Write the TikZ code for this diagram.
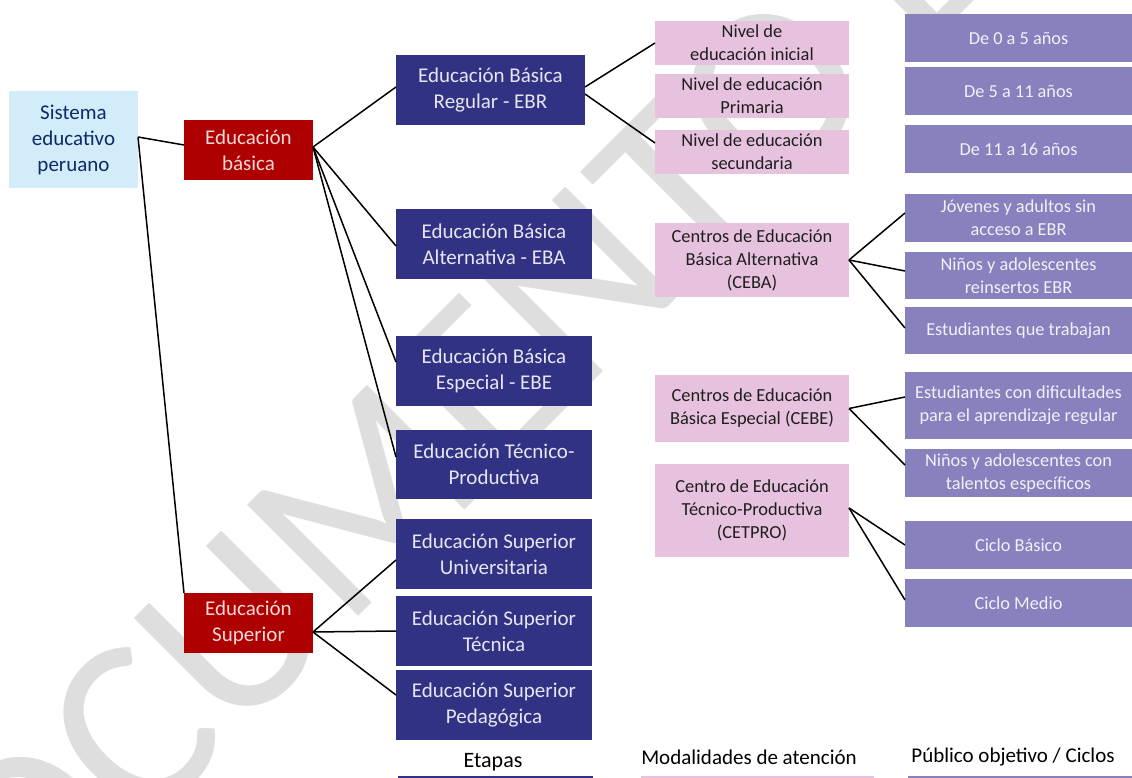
\documentclass[tikz,border=0pt]{standalone}
\usepackage{fontspec}
\setmainfont{Carlito}
\definecolor{sistfill}{HTML}{D2EDF9}
\definecolor{sisttext}{HTML}{0E2A68}
\definecolor{redfill}{HTML}{AE0000}
\definecolor{redtext}{HTML}{F5D8D8}
\definecolor{bluefill}{HTML}{313283}
\definecolor{bluetext}{HTML}{E6E6F2}
\definecolor{pinkfill}{HTML}{E6C2DE}
\definecolor{pinktext}{HTML}{1E1E1E}
\definecolor{purpfill}{HTML}{8781BD}
\definecolor{purptext}{HTML}{F2F0FA}
\definecolor{wmgray}{HTML}{DEDEDE}
\tikzset{
  box/.style={anchor=north west, inner sep=0pt, outer sep=0pt, align=center},
  sistbox/.style={box, fill=sistfill, text=sisttext, font=\fontsize{21}{26}\selectfont},
  redbox/.style={box, fill=redfill, text=redtext, font=\fontsize{21}{26}\selectfont},
  bluebox/.style={box, fill=bluefill, text=bluetext, font=\fontsize{21}{26}\selectfont},
  pinkbox/.style={box, fill=pinkfill, text=pinktext, font=\fontsize{18.4}{23}\selectfont},
  purpbox/.style={box, fill=purpfill, text=purptext, font=\fontsize{18.3}{23}\selectfont},
  conn/.style={draw=black, line width=1.5pt},
  legtext/.style={anchor=center, inner sep=0pt, text=black},
}
\begin{document}
\begin{tikzpicture}[x=1pt, y=-1pt]
\useasboundingbox (0,0) rectangle (1132,778);
% watermark
\begin{scope}
\clip (0,0) rectangle (1132,778);
\node[rotate=45, anchor=base west, inner sep=0pt, text=wmgray, font=\fontsize{245}{245}\selectfont] (wm) at (-80,1055) {DOCUMENTO DE TRABAJO};
\end{scope}
% level 0-1
\node[sistbox, minimum width=129pt, minimum height=97pt] (sist) at (9,91) {Sistema\\educativo\\peruano};
\node[redbox, minimum width=129pt, minimum height=60pt] (basica) at (184,120) {Educación\\básica};
\node[redbox, minimum width=129pt, minimum height=60pt] (sup) at (184,593) {Educación\\Superior};
% etapas
\node[bluebox, minimum width=189pt, minimum height=70pt] (ebr) at (396,55) {Educación Básica\\Regular - EBR};
\node[bluebox, minimum width=196pt, minimum height=70pt] (eba) at (396,209) {Educación Básica\\Alternativa - EBA};
\node[bluebox, minimum width=196pt, minimum height=70pt] (ebe) at (396,336) {Educación Básica\\Especial - EBE};
\node[bluebox, minimum width=196pt, minimum height=69pt] (tec) at (396,430) {Educación Técnico-\\Productiva};
\node[bluebox, minimum width=196pt, minimum height=70pt] (univ) at (396,519) {Educación Superior\\Universitaria};
\node[bluebox, minimum width=196pt, minimum height=70pt] (stec) at (396,596) {Educación Superior\\Técnica};
\node[bluebox, minimum width=196pt, minimum height=70pt] (ped) at (396,670) {Educación Superior\\Pedagógica};
% modalidades
\node[pinkbox, minimum width=194pt, minimum height=44pt] (ini) at (655,21) {Nivel de\\educación inicial};
\node[pinkbox, minimum width=194pt, minimum height=44pt] (pri) at (655,74) {Nivel de educación\\Primaria};
\node[pinkbox, minimum width=194pt, minimum height=44pt] (sec) at (655,130) {Nivel de educación\\secundaria};
\node[pinkbox, minimum width=194pt, minimum height=74pt] (ceba) at (655,223) {Centros de Educación\\Básica Alternativa\\(CEBA)};
\node[pinkbox, minimum width=194pt, minimum height=67pt] (cebe) at (655,375) {Centros de Educación\\Básica Especial (CEBE)};
\node[pinkbox, minimum width=194pt, minimum height=93pt] (cetpro) at (655,464) {Centro de Educación\\Técnico-Productiva\\(CETPRO)};
% publico
\node[purpbox, minimum width=227pt, minimum height=48pt] (a05) at (905,14) {De 0 a 5 años};
\node[purpbox, minimum width=227pt, minimum height=48pt] (a511) at (905,67) {De 5 a 11 años};
\node[purpbox, minimum width=227pt, minimum height=48pt] (a1116) at (905,125) {De 11 a 16 años};
\node[purpbox, minimum width=227pt, minimum height=48pt] (jov) at (905,194) {Jóvenes y adultos sin\\acceso a EBR};
\node[purpbox, minimum width=227pt, minimum height=47pt] (nin) at (905,252) {Niños y adolescentes\\reinsertos EBR};
\node[purpbox, minimum width=227pt, minimum height=47pt] (est) at (905,307) {Estudiantes que trabajan};
\node[purpbox, minimum width=227pt, minimum height=67pt] (dif) at (905,372) {Estudiantes con dificultades\\para el aprendizaje regular};
\node[purpbox, minimum width=227pt, minimum height=48pt] (tal) at (905,449) {Niños y adolescentes con\\talentos específicos};
\node[purpbox, minimum width=227pt, minimum height=48pt] (cb) at (905,521) {Ciclo Básico};
\node[purpbox, minimum width=227pt, minimum height=48pt] (cm) at (905,579) {Ciclo Medio};
% connectors
\draw[conn] ([yshift=2.5pt]sist.east) -- ([yshift=5pt]basica.west);
\draw[conn] ([yshift=2.5pt]sist.east) -- (sup.north west);
\draw[conn] ([yshift=3pt]basica.east) -- ([yshift=3pt]ebr.west);
\draw[conn] ([yshift=3pt]basica.east) -- ([yshift=-2pt]eba.west);
\draw[conn] ([yshift=3pt]basica.east) -- ([yshift=9pt]ebe.west);
\draw[conn] ([yshift=3pt]basica.east) -- ([yshift=7.5pt]tec.west);
\draw[conn] ([yshift=-9pt]sup.east) -- ([yshift=-6pt]univ.west);
\draw[conn] ([yshift=-9pt]sup.east) -- (stec.west);
\draw[conn] ([yshift=-9pt]sup.east) -- ([yshift=10pt]ped.west);
\draw[conn] ([yshift=3pt]ebr.east) -- (ini.west);
\draw[conn] ([yshift=-4pt]ebr.east) -- ([yshift=9pt]sec.west);
\draw[conn] (ceba.east) -- ([yshift=5pt]jov.west);
\draw[conn] (ceba.east) -- ([yshift=4.5pt]nin.west);
\draw[conn] (ceba.east) -- ([yshift=2.5pt]est.west);
\draw[conn] (cebe.east) -- ([yshift=8.5pt]dif.west);
\draw[conn] (cebe.east) -- ([yshift=8pt]tal.west);
\draw[conn] ([yshift=2.5pt]cetpro.east) -- (cb.west);
\draw[conn] ([yshift=2.5pt]cetpro.east) -- ([yshift=3pt]cm.west);
% legend
\node[legtext, font=\fontsize{22}{24}\selectfont] (legA) at (493,762) {Etapas};
\node[legtext, font=\fontsize{21}{24}\selectfont] (legB) at (749,757) {Modalidades de atención};
\node[legtext, font=\fontsize{21}{24}\selectfont] (legC) at (1013,757) {Público objetivo / Ciclos};
\fill[bluefill] (398,776) rectangle (593,778);
\fill[pinkfill] (641,776) rectangle (874,778);
\fill[purpfill] (908,776) rectangle (1132,778);
\end{tikzpicture}
\end{document}
